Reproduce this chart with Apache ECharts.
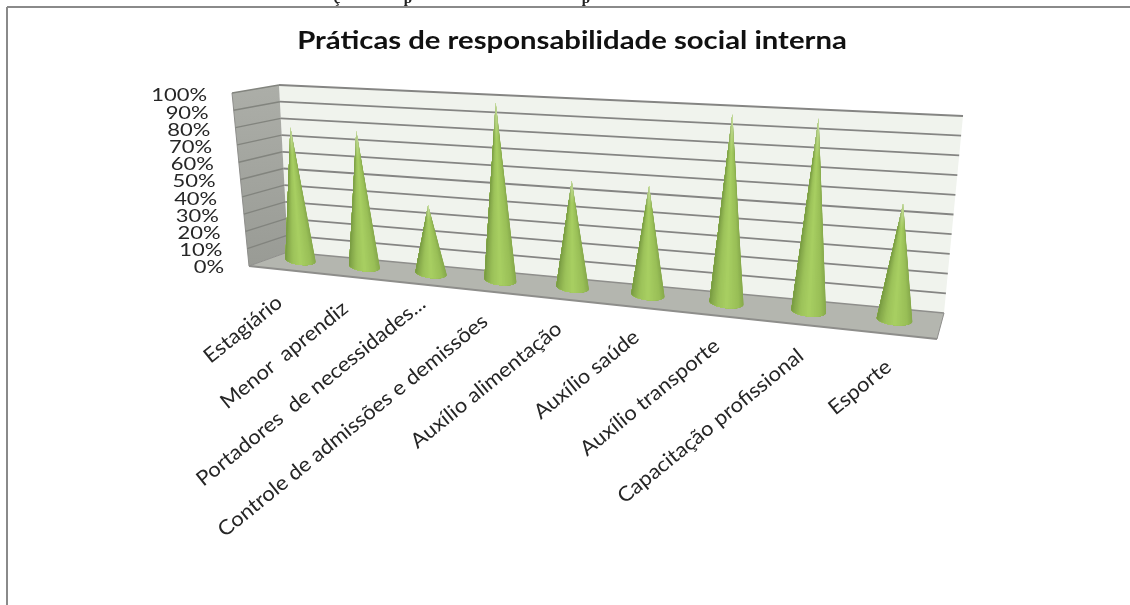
<!DOCTYPE html>
<html><head><meta charset="utf-8">
<style>html,body{margin:0;padding:0;background:#fff}#c{width:1130px;height:605px}</style>
<script src="https://cdn.jsdelivr.net/npm/echarts@6/dist/echarts.min.js"></script>
</head><body><div id="c"></div>
<script>
const chartTitle = 'Práticas de responsabilidade social interna';
const categories = ['Estagiário','Menor  aprendiz','Portadores  de necessidades...','Controle de admissões e demissões','Auxílio alimentação','Auxílio saúde','Auxílio transporte','Capacitação profissional','Esporte'];
const values = [80,80,40,100,60,60,100,100,60];
const yTicks = [0,10,20,30,40,50,60,70,80,90,100];
const yTickLabels = ['0%','10%','20%','30%','40%','50%','60%','70%','80%','90%','100%'];

const W = 1130, H = 605;
function quad(p0,p1,p2,p3){
  const dx1=p1[0]-p2[0],dx2=p3[0]-p2[0],sx=p0[0]-p1[0]+p2[0]-p3[0];
  const dy1=p1[1]-p2[1],dy2=p3[1]-p2[1],sy=p0[1]-p1[1]+p2[1]-p3[1];
  const den=dx1*dy2-dx2*dy1;
  const g=(sx*dy2-dx2*sy)/den,h=(dx1*sy-sx*dy1)/den;
  const a=p1[0]-p0[0]+g*p1[0],b=p3[0]-p0[0]+h*p3[0],c=p0[0];
  const d=p1[1]-p0[1]+g*p1[1],e=p3[1]-p0[1]+h*p3[1],f=p0[1];
  return (s,v)=>{const w=g*s+h*v+1;return [(a*s+b*v+c)/w,(d*s+e*v+f)/w];};
}
function bilinear(p0,p1,p2,p3){
  return (s,v)=>[0,1].map(k=>(1-v)*((1-s)*p0[k]+s*p1[k])+v*((1-s)*p3[k]+s*p2[k]));
}
// planes of the 3D box: (s along, v up/deep)
const backWall = bilinear([288,252],[944,313],[963,116],[279,85]);
const sideWall = bilinear([249,266],[288,252],[279,85],[232,93]);
const floorPl  = quad([249,266],[937,339],[944,313],[288,252]);
const midPlane = quad([269.5,257],[939,324],[956,125],[255.5,91]);
const norm = c => [c[0]/W, 1-c[1]/H];

function hex(c){return [parseInt(c.slice(1,3),16),parseInt(c.slice(3,5),16),parseInt(c.slice(5,7),16)];}
const shade = [[0,'#86a94b'],[.15,'#98be56'],[.5,'#a8cf62'],[.75,'#9cc259'],[.92,'#86aa4b'],[1,'#779a40']];
function shadeAt(u){
  for(let i=1;i<shade.length;i++) if(u<=shade[i][0]){
    const t=(u-shade[i-1][0])/(shade[i][0]-shade[i-1][0]);
    const a=hex(shade[i-1][1]),b=hex(shade[i][1]);
    return a.map((x,k)=>Math.round(x+(b[k]-x)*t));
  }
  return hex(shade[shade.length-1][1]);
}
const rgb = c => 'rgb('+c.join(',')+')';

function renderBox(){
  const poly=(f,fill)=>({type:'polygon',shape:{points:[f(0,0),f(1,0),f(1,1),f(0,1)]},style:{fill:fill,stroke:null}});
  const edge=(a,b,w)=>({type:'line',shape:{x1:a[0],y1:a[1],x2:b[0],y2:b[1]},style:{stroke:'#8e8e8b',lineWidth:w}});
  return {type:'group',children:[
    poly(backWall,'#f0f3ed'),
    poly(sideWall,new echarts.graphic.LinearGradient(0,1,0,0,[{offset:0,color:'#999b95'},{offset:1,color:'#acaea8'}])),
    poly(floorPl,'#b4b6af'),
    edge(floorPl(0,0),floorPl(1,0),1.8),
    edge(floorPl(1,0),floorPl(1,1),1),
    edge(floorPl(0,1),floorPl(1,1),1.4),
    edge(floorPl(0,0),floorPl(0,1),1),
    edge(sideWall(0,0),sideWall(0,1),1)
  ]};
}
function renderTick(params,api){
  const i=api.value(0);
  const v=norm(api.coord([0,i]))[1];
  const ch=[];
  const line=(a,b,c,w)=>ch.push({type:'line',shape:{x1:a[0],y1:a[1],x2:b[0],y2:b[1]},style:{stroke:c,lineWidth:w}});
  if(i>0){
    line(backWall(0,v),backWall(1,v),'#858583',1.8);
    line(sideWall(0,v),sideWall(1,v),'#82847e',1.4);
  }
  const o=sideWall(0,v);
  ch.push({type:'text',x:o[0]-25,y:o[1]+1.5+v,scaleX:1.22,style:{text:yTickLabels[params.dataIndex],font:'18px Lato',fill:'#262626',textAlign:'right',textVerticalAlign:'middle'}});
  return {type:'group',children:ch};
}
function renderCone(params,api){
  const n=norm(api.coord([api.value(0),api.value(1)]));
  const base=midPlane(n[0],0),apex=midPlane(n[0],n[1]),top=midPlane(n[0],1);
  const hw=.09*Math.hypot(top[0]-base[0],top[1]-base[1]),ry=hw*.32,tilt=.1;
  const P=t=>[base[0]+hw*Math.cos(t),base[1]+hw*Math.cos(t)*tilt+ry*Math.sin(t)];
  const ch=[],N=30;
  for(let k=0;k<N;k++){
    const tm=Math.PI*(k+.5)/N;
    const c=shadeAt((1-Math.cos(tm))/2);
    const col=rgb(c),tip=rgb(c.map(x=>Math.round(x+(255-x)*.4)));
    const pts=[apex];
    for(let j=k;j<=N;j++) pts.push(P(Math.PI*j/N));
    ch.push({type:'polygon',shape:{points:pts},style:{
      fill:new echarts.graphic.LinearGradient(apex[0],apex[1],apex[0],base[1]+ry,[{offset:0,color:tip},{offset:.2,color:col},{offset:1,color:col}],true),
      stroke:null}});
  }
  return {type:'group',children:ch};
}
function renderCat(params,api){
  const n=norm(api.coord([api.value(0),0]));
  const p=floorPl(n[0],0);
  const q=midPlane(n[0],0);
  const label=categories[params.dataIndex];
  const cut=label.endsWith('...');
  return {type:'text',x:q[0]-22+n[0]*17+(cut?9:0),y:p[1]+31-(cut?11:0),rotation:39*Math.PI/180,scaleX:1.07,
    style:{text:label,font:'20.5px Lato',fill:'#262626',textAlign:'right',textVerticalAlign:'middle'}};
}
const chart=echarts.init(document.getElementById('c'),null,{renderer:'canvas'});
chart.setOption({
  animation:false,backgroundColor:'#fff',
  grid:{left:0,right:0,top:0,bottom:0,containLabel:false},
  xAxis:{type:'category',data:categories,show:false},
  yAxis:{type:'value',min:0,max:100,interval:10,show:false,splitLine:{show:false}},
  tooltip:{show:false},
  series:[
    {type:'custom',silent:true,z:1,data:[[0,0]],renderItem:renderBox},
    {type:'custom',silent:true,z:2,data:yTicks.map(t=>[t]),encode:{x:0,y:0},renderItem:renderTick},
    {type:'custom',silent:true,z:3,data:values.map((v,i)=>[i,v]),encode:{x:0,y:1},renderItem:renderCone},
    {type:'custom',silent:true,z:4,data:categories.map((c,i)=>[i,0]),encode:{x:0,y:1},renderItem:renderCat}
  ],
  graphic:[
    {type:'text',x:572,y:41,scaleX:1.195,z:10,style:{text:chartTitle,font:'bold 24.5px Lato',fill:'#111',textAlign:'center',textVerticalAlign:'middle'}},
    {type:'line',z:10,shape:{x1:7,y1:7,x2:1130,y2:7},style:{stroke:'#8a8a8a',lineWidth:2}},
    {type:'line',z:10,shape:{x1:7,y1:7,x2:7,y2:605},style:{stroke:'#8a8a8a',lineWidth:2}},
    {type:'text',x:337,y:-8,z:10,style:{text:'ç',font:'bold 15px "Liberation Serif"',fill:'#222',textAlign:'center',textVerticalAlign:'top'}},
    {type:'text',x:408,y:-8,z:10,style:{text:'p',font:'bold 15px "Liberation Serif"',fill:'#222',textAlign:'center',textVerticalAlign:'top'}},
    {type:'text',x:586,y:-8,z:10,style:{text:'p',font:'bold 15px "Liberation Serif"',fill:'#222',textAlign:'center',textVerticalAlign:'top'}}
  ]
});
</script></body></html>
